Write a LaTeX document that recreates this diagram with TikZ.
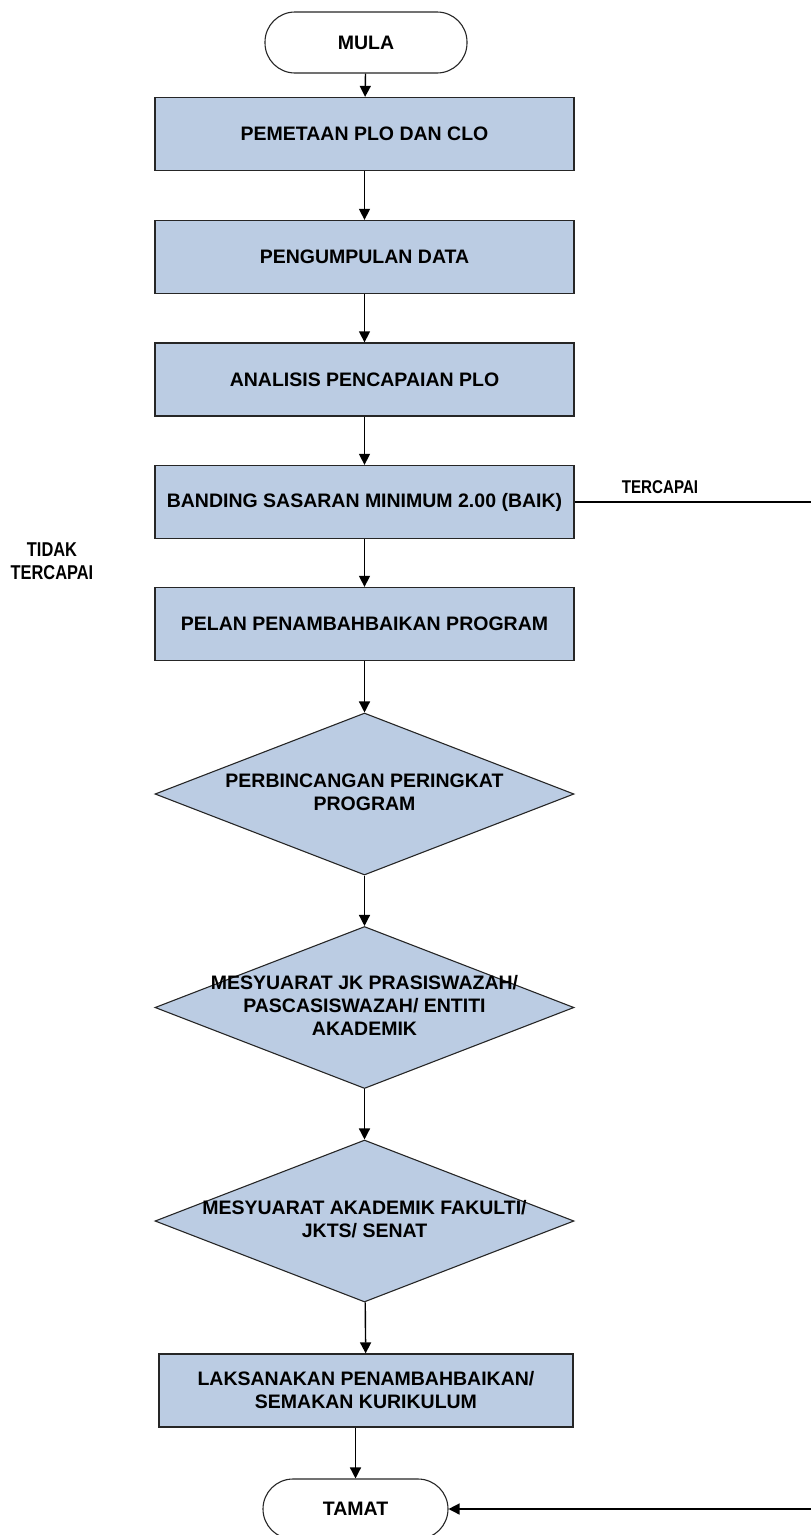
\documentclass[tikz,border=0pt]{standalone}
\usepackage{fontspec}
\setmainfont{Liberation Sans}
\newfontfamily\narrowfont[FakeStretch=0.82]{Liberation Sans}
\usepackage{tikz}
\usetikzlibrary{shapes.geometric}
\usetikzlibrary{arrows.meta}
\usepackage{xcolor}
\definecolor{boxblue}{RGB}{187,204,227}
\tikzstyle{proc}=[draw=black!85, fill=boxblue, line width=1.3pt, minimum width=419pt, minimum height=73pt, inner sep=0pt, align=center, font=\bfseries\fontsize{19.5}{23}\selectfont]
\tikzstyle{dec}=[diamond, draw=black!85, fill=boxblue, line width=1.1pt, minimum width=419pt, minimum height=162pt, inner sep=0pt, font=\bfseries\fontsize{19.5}{23}\selectfont]
\tikzstyle{term}=[draw=black!85, fill=white, line width=1.1pt, rounded corners=30pt, minimum width=202pt, minimum height=61pt, inner sep=0pt, font=\bfseries\fontsize{19.5}{23}\selectfont]
\tikzstyle{flow}=[-{Triangle[length=11pt,width=11pt]}, line width=1.4pt]
\tikzstyle{lbl}=[align=center, inner sep=0pt, font=\narrowfont\bfseries\fontsize{18.5}{23}\selectfont]
\newcommand{\dtext}[1]{\makebox[0pt]{\begin{tabular}{@{}c@{}}#1\end{tabular}}}

\begin{document}
\begin{tikzpicture}[x=1pt,y=-1pt]
\useasboundingbox (0,0) rectangle (811,1535);
\coordinate (tcR) at (811,502);
\coordinate (tmR) at (811,1509);
\node[term] (mula) at (366,42.5) {MULA};
\node[proc] (pemetaan) at (364.5,134) {PEMETAAN PLO DAN CLO};
\node[proc] (pengumpulan) at (364.5,257) {PENGUMPULAN DATA};
\node[proc] (analisis) at (364.5,379.5) {ANALISIS PENCAPAIAN PLO};
\node[proc] (banding) at (364.5,502) {BANDING SASARAN MINIMUM 2.00 (BAIK)};
\node[proc] (pelan) at (364.5,624) {PELAN PENAMBAHBAIKAN PROGRAM};
\node[dec] (bincang) at (364.5,794) {\dtext{PERBINCANGAN PERINGKAT\\PROGRAM}};
\node[dec] (jk) at (364.5,1007.5) {\dtext{MESYUARAT JK PRASISWAZAH/\\PASCASISWAZAH/ ENTITI\\AKADEMIK}};
\node[dec] (senat) at (364.5,1221) {\dtext{MESYUARAT AKADEMIK FAKULTI/\\JKTS/ SENAT}};
\node[proc, minimum width=414pt] (laksana) at (366,1390.5) {LAKSANAKAN PENAMBAHBAIKAN/\\SEMAKAN KURIKULUM};
\node[term, minimum width=185pt, minimum height=60pt] (tamat) at (355.5,1509) {TAMAT};
\node[lbl] (tercapai) at (660,487) {TERCAPAI};
\node[lbl, font=\narrowfont\bfseries\fontsize{20}{23}\selectfont] (tidak) at (52,561) {TIDAK\\TERCAPAI};
\draw[flow] (mula) -- (pemetaan);
\draw[flow] (pemetaan) -- (pengumpulan);
\draw[flow] (pengumpulan) -- (analisis);
\draw[flow] (analisis) -- (banding);
\draw[flow] (banding) -- (pelan);
\draw[flow] (pelan) -- (bincang);
\draw[flow] (bincang) -- (jk);
\draw[flow] (jk) -- (senat);
\draw[flow] (senat) -- (laksana);
\draw[flow] (laksana.south -| tamat.north) -- (tamat.north);
\draw[line width=1.4pt] (banding.east) -- (tcR);
\draw[flow] (tmR) -- (tamat.east);
\end{tikzpicture}
\end{document}
